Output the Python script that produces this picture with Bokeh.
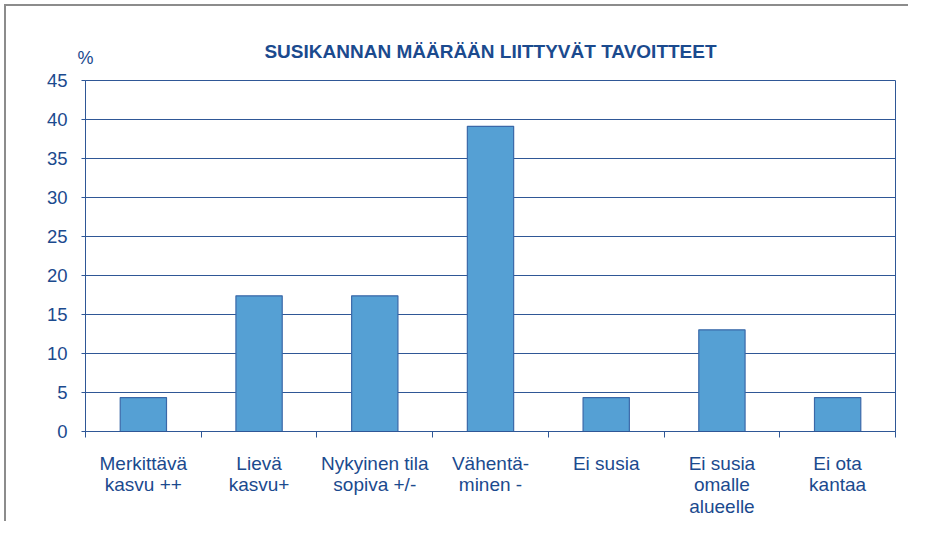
from bokeh.plotting import figure
from bokeh.models import Range1d, FixedTicker, LinearAxis
from bokeh.embed import file_html
from bokeh.resources import INLINE

categories = ["Merkittävä\nkasvu ++", "Lievä\nkasvu+", "Nykyinen tila\nsopiva +/-",
              "Vähentä-\nminen -", "Ei susia", "Ei susia\nomalle\nalueelle", "Ei ota\nkantaa"]
values = [4.35, 17.39, 17.39, 39.13, 4.35, 13.04, 4.35]
y_ticks = [0, 5, 10, 15, 20, 25, 30, 35, 40, 45]
title_text = "SUSIKANNAN MÄÄRÄÄN LIITTYVÄT TAVOITTEET"
unit_text = "%"

TEXT = "#1b4a8e"
LINE = "#2f5796"
FONT = "Liberation Sans"

p = figure(width=904, height=517, output_backend="svg", toolbar_location=None,
           x_range=Range1d(0, len(categories)), y_range=Range1d(0, 45),
           min_border_left=79, min_border_right=15, min_border_top=74, min_border_bottom=92)
p.styles = {"margin-left": "4px", "margin-top": "4px",
            "border-left": "2px solid #8c8c8c", "border-top": "2px solid #8c8c8c"}

xs = [i + 0.5 for i in range(len(categories))]
p.vbar(x=xs, top=values, bottom=0, width=0.4, fill_color="#55a0d4",
       line_color="#3a68a8", line_width=1.2)

p.outline_line_color = LINE
p.outline_line_width = 1
p.xgrid.visible = False
p.ygrid.ticker = FixedTicker(ticks=y_ticks)
p.ygrid.grid_line_color = LINE
p.ygrid.grid_line_width = 1

ya = p.yaxis[0]
ya.ticker = FixedTicker(ticks=y_ticks)
ya.axis_line_color = LINE
ya.major_tick_line_color = LINE
ya.major_tick_in = 0
ya.major_tick_out = 4
ya.minor_tick_line_color = None
ya.major_label_text_font = FONT
ya.major_label_text_font_size = "18.5px"
ya.major_label_text_color = TEXT
ya.major_label_standoff = 14

xa = p.xaxis[0]
xa.ticker = FixedTicker(ticks=xs, minor_ticks=list(range(len(categories) + 1)))
xa.major_label_overrides = {x: c for x, c in zip(xs, categories)}
xa.axis_line_color = LINE
xa.major_tick_line_color = None
xa.major_tick_in = 0
xa.major_tick_out = 0
xa.minor_tick_line_color = LINE
xa.minor_tick_in = 0
xa.minor_tick_out = 6
xa.major_label_text_font = FONT
xa.major_label_text_font_size = "19px"
xa.major_label_text_color = TEXT
xa.major_label_text_line_height = 1.04
xa.major_label_standoff = 15

# top axis carrying the unit label "%" (tick at frame's left edge) and the chart title
top = LinearAxis(ticker=FixedTicker(ticks=[0]), major_label_overrides={0: unit_text},
                 axis_label=title_text)
top.axis_line_color = None
top.major_tick_line_color = None
top.minor_tick_line_color = None
top.major_tick_in = 0
top.major_tick_out = 0
top.major_label_standoff = 13
top.major_label_text_font = FONT
top.major_label_text_font_size = "18px"
top.major_label_text_color = TEXT
top.axis_label_text_font = FONT
top.axis_label_text_font_size = "19px"
top.axis_label_text_font_style = "bold"
top.axis_label_text_color = TEXT
top.axis_label_standoff = -17
p.add_layout(top, "above")

open("out.html", "w").write(file_html(p, INLINE))
